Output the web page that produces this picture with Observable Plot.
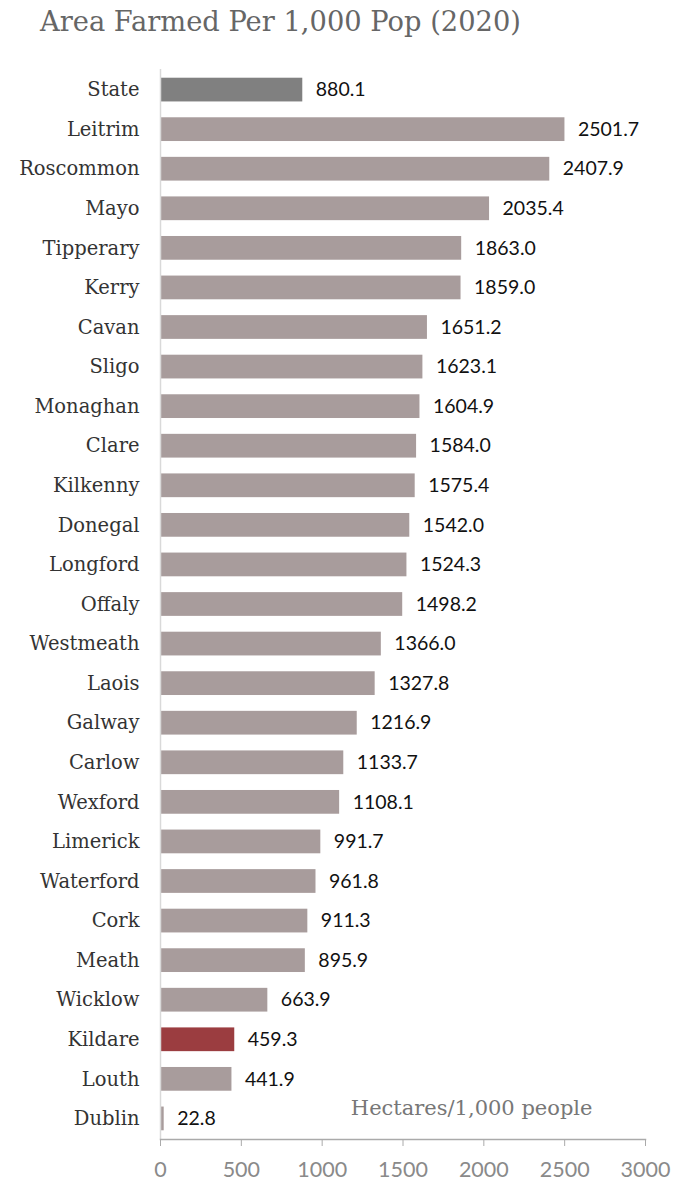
<!DOCTYPE html>
<html>
<head>
<meta charset="utf-8">
<script src="https://cdn.jsdelivr.net/npm/d3@7"></script>
<script src="https://cdn.jsdelivr.net/npm/@observablehq/plot@0.6"></script>
<style>
  body { margin: 0; background: #fff; }
  #title { height: 56px; box-sizing: border-box; padding-left: 40px; padding-top: 6px;
    font-family: "DejaVu Serif", serif; font-size: 27.3px; color: #666; white-space: nowrap; overflow: visible; }
  svg { display: block; }
</style>
</head>
<body>
<div id="title">Area Farmed Per 1,000 Pop (2020)</div>
<div id="chart"></div>
<script>
const counties = ["State","Leitrim","Roscommon","Mayo","Tipperary","Kerry","Cavan","Sligo","Monaghan","Clare","Kilkenny","Donegal","Longford","Offaly","Westmeath","Laois","Galway","Carlow","Wexford","Limerick","Waterford","Cork","Meath","Wicklow","Kildare","Louth","Dublin"];
const values = [880.1,2501.7,2407.9,2035.4,1863.0,1859.0,1651.2,1623.1,1604.9,1584.0,1575.4,1542.0,1524.3,1498.2,1366.0,1327.8,1216.9,1133.7,1108.1,991.7,961.8,911.3,895.9,663.9,459.3,441.9,22.8];
const xTicks = [0,500,1000,1500,2000,2500,3000];
const unitLabel = "Hectares/1,000 people";

const data = counties.map((c, i) => ({county: c, value: values[i]}));
const colorOf = c => c === "State" ? "#808080" : c === "Kildare" ? "#9b3d40" : "#a89c9c";

const chart = Plot.plot({
  width: 686,
  height: 1125,
  marginTop: 13,
  marginBottom: 42,
  marginLeft: 160,
  marginRight: 41,
  x: {domain: [0, 3000], ticks: xTicks},
  y: {domain: counties, paddingInner: 0.4, paddingOuter: 0.22, round: false},
  marks: [
    Plot.barX(data, {y: "county", x: "value", fill: d => colorOf(d.county)}),
    Plot.ruleX([0], {stroke: "#d9d9d9", strokeWidth: 1.5}),
    Plot.frame({anchor: "bottom", stroke: "#aaa", strokeWidth: 1.5}),
    Plot.axisX({ticks: xTicks, tickSize: 7, tickPadding: 15, stroke: "#aaa", fill: "#8a8a8a",
      fontSize: 21.5, fontFamily: "Lato", tickFormat: d => String(d), label: null}),
    Plot.axisY({tickSize: 0, tickPadding: 21, fontSize: 19.5, fontFamily: "DejaVu Serif", fill: "#333", label: null}),
    Plot.text(data, {y: "county", x: "value", text: d => d.value.toFixed(1), textAnchor: "start", dx: 13,
      fontSize: 19.5, fontFamily: "Lato", fill: "#111"}),
    Plot.text([unitLabel], {frameAnchor: "bottom-right", text: d => d, textAnchor: "end", lineAnchor: "middle",
      dx: -53, dy: -31, fontSize: 21, fontFamily: "DejaVu Serif", fill: "#777"})
  ]
});
document.getElementById("chart").appendChild(chart);
</script>
</body>
</html>
